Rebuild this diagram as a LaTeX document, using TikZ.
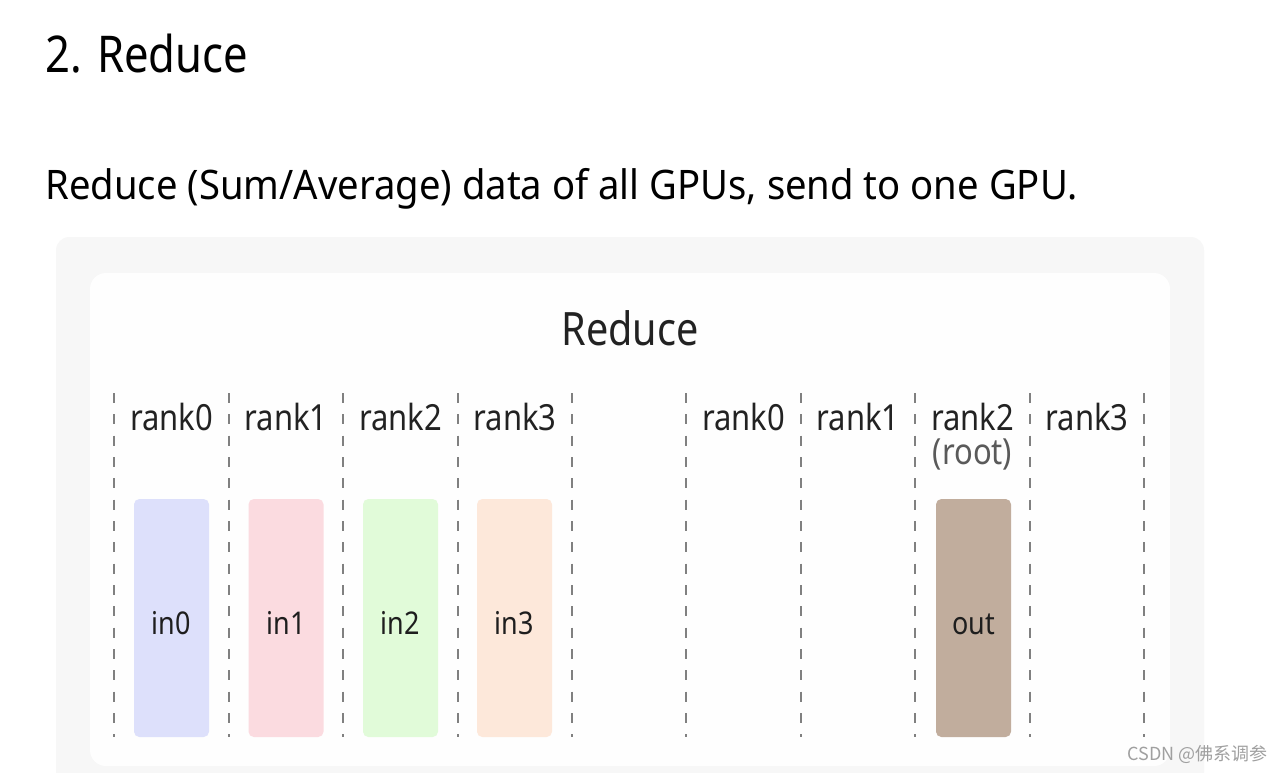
\documentclass[tikz,border=0pt]{standalone}
\usepackage{fontspec}
\setmainfont{Noto Sans}[FakeStretch=0.86]
\newfontfamily\widesans{Noto Sans}[FakeStretch=0.94]
\newfontfamily\cjk{Noto Sans CJK SC}
\usetikzlibrary{positioning}

\definecolor{panelgray}{RGB}{247,247,247}
\definecolor{inzero}{RGB}{221,224,251}
\definecolor{inone}{RGB}{251,219,224}
\definecolor{intwo}{RGB}{225,251,217}
\definecolor{inthree}{RGB}{253,232,218}
\definecolor{outcol}{RGB}{193,173,157}

\tikzset{every picture/.style={line width=0.75pt}}
\tikzset{
  rankline/.style={color={rgb, 255:red, 128; green, 128; blue, 128 }, line width=1.1pt, dash pattern=on 7.5pt off 8.5pt},
  ranklabel/.style={anchor=base, inner sep=0.75pt, font=\fontsize{27}{30}\selectfont, text={rgb, 255:red, 34; green, 34; blue, 34 }},
  bufbox/.style={rounded corners=4pt, minimum width=56.25pt, minimum height=178.5pt, inner sep=0pt, text height=25pt, text depth=0pt, font=\fontsize{23.5}{26}\selectfont, text={rgb, 255:red, 30; green, 30; blue, 30 }}
}

\begin{document}
\begin{tikzpicture}[x=0.75pt,y=0.75pt,yscale=-1,xscale=1]
\useasboundingbox[fill=white] (0,0) rectangle (1284,772);

% Text Node
\node [anchor=base west, inner sep=0pt, font=\fontsize{38}{44}\selectfont] (title) at (45,72) {2. Reduce};
% Text Node
\node [anchor=base west, inner sep=0pt, font=\widesans\fontsize{30.5}{36}\selectfont] (subtitle) at (45,199) {Reduce (Sum/Average) data of all GPUs, send to one GPU.};

%Shape: Rectangle (outer panel)
\fill [panelgray, rounded corners=10pt] (56,237) rectangle (1204,790);
%Shape: Rectangle (inner panel)
\fill [white!85!panelgray, rounded corners=12pt] (90,273) rectangle (1170,766);

% Text Node
\node [anchor=base, inner sep=0pt, font=\fontsize{34.5}{40}\selectfont, text={rgb, 255:red, 34; green, 34; blue, 34 }] (heading) at (630,345) {Reduce};

%Straight Lines (rank separators)
\foreach \x in {114,229,343,458,572,686,801,915,1030,1144}
  \draw [rankline] (\x,393) -- (\x,737);

% Text Node (left ranks)
\node [ranklabel] (lrank0) at (171.5,430) {rank0};
\node [ranklabel] (lrank1) at (286,430) {rank1};
\node [ranklabel] (lrank2) at (400.5,430) {rank2};
\node [ranklabel] (lrank3) at (515,430) {rank3};
% Text Node (right ranks)
\node [ranklabel] (rrank0) at (743.5,430) {rank0};
\node [ranklabel] (rrank1) at (858,430) {rank1};
\node [ranklabel] (rrank2) at (972.5,430) {rank2};
\node [ranklabel] (rrank3) at (1087,430) {rank3};
\node [ranklabel, text={rgb, 255:red, 90; green, 90; blue, 90 }] (root) at (972.5,464) {(root)};

%Shape: Rectangle (buffers)
\node [bufbox, fill=inzero] (in0) at (171.5,618) {in0};
\node [bufbox, fill=inone] (in1) at (286,618) {in1};
\node [bufbox, fill=intwo] (in2) at (400.5,618) {in2};
\node [bufbox, fill=inthree] (in3) at (514.5,618) {in3};
\node [bufbox, fill=outcol] (out) at (973.5,618) {out};

% Text Node (watermark)
\node [anchor=base east, inner sep=0pt, font=\cjk\fontsize{13.5}{16}\selectfont, text={rgb, 255:red, 160; green, 160; blue, 160 }] (mark) at (1268,760) {CSDN @佛系调参};

\end{tikzpicture}
\end{document}
